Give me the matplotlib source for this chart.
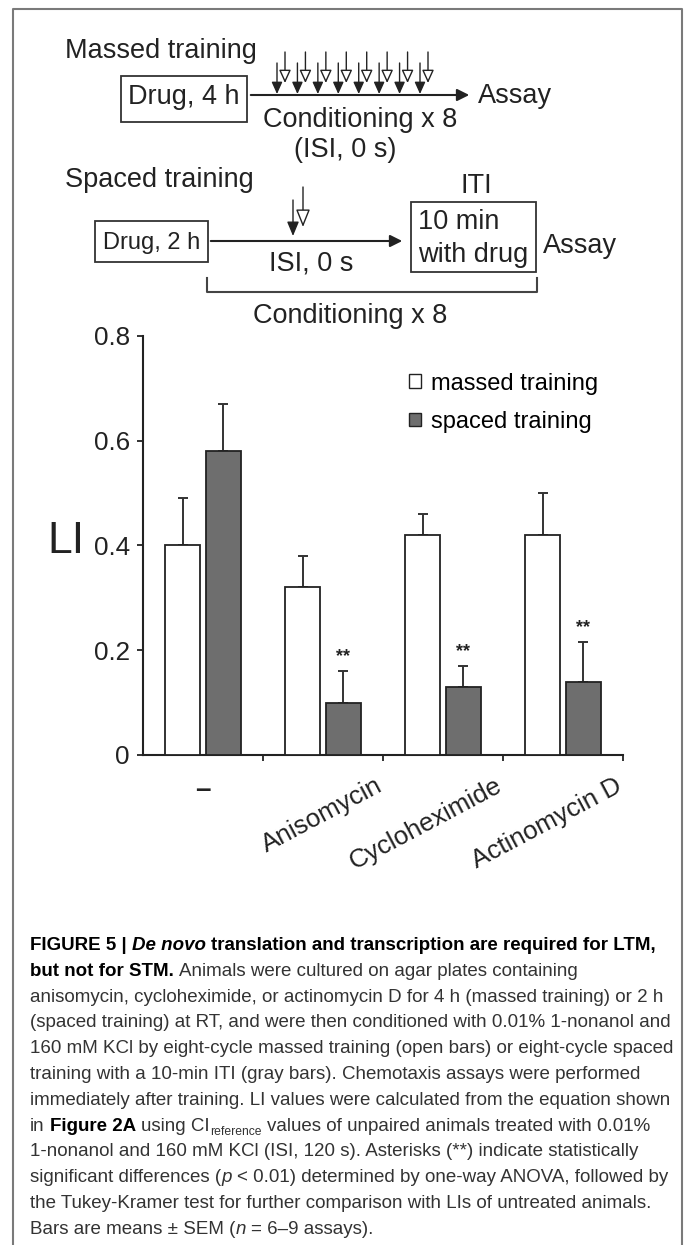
import numpy as np
import matplotlib.pyplot as plt
from matplotlib.patches import Rectangle, Patch

# ---- data ----
groups = ['–', 'Anisomycin', 'Cycloheximide', 'Actinomycin D']
massed = [0.40, 0.32, 0.42, 0.42]
massed_sem = [0.09, 0.06, 0.04, 0.08]
spaced = [0.58, 0.10, 0.13, 0.14]
spaced_sem = [0.09, 0.06, 0.04, 0.075]
spaced_sig = ['', '**', '**', '**']
y_ticks = [0, 0.2, 0.4, 0.6, 0.8]
y_tick_labels = ['0', '0.2', '0.4', '0.6', '0.8']

caption = [
    [("FIGURE 5 |", 'bold', 'normal'), (" De novo", 'bold', 'italic'),
     (" translation and transcription are required for LTM,", 'bold', 'normal')],
    [("but not for STM.", 'bold', 'normal'),
     (" Animals were cultured on agar plates containing", 'normal', 'normal')],
    [("anisomycin, cycloheximide, or actinomycin D for 4 h (massed training) or 2 h", 'normal', 'normal')],
    [("(spaced training) at RT, and were then conditioned with 0.01% 1-nonanol and", 'normal', 'normal')],
    [("160 mM KCl by eight-cycle massed training (open bars) or eight-cycle spaced", 'normal', 'normal')],
    [("training with a 10-min ITI (gray bars). Chemotaxis assays were performed", 'normal', 'normal')],
    [("immediately after training. LI values were calculated from the equation shown", 'normal', 'normal')],
    [("in", 'normal', 'normal'), (" Figure 2A", 'bold', 'normal'), (" using CI", 'normal', 'normal'),
     ("reference", 'normal', 'sub'), (" values of unpaired animals treated with 0.01%", 'normal', 'normal')],
    [("1-nonanol and 160 mM KCl (ISI, 120 s). Asterisks (**) indicate statistically", 'normal', 'normal')],
    [("significant differences (", 'normal', 'normal'), ("p", 'normal', 'italic'),
     (" < 0.01) determined by one-way ANOVA, followed by", 'normal', 'normal')],
    [("the Tukey-Kramer test for further comparison with LIs of untreated animals.", 'normal', 'normal')],
    [("Bars are means ± SEM (", 'normal', 'normal'), ("n", 'normal', 'italic'),
     (" = 6–9 assays).", 'normal', 'normal')],
]

plt.rcParams['font.family'] = ['Liberation Sans', 'DejaVu Sans']

W, H = 684, 1245
fig = plt.figure(figsize=(W / 100, H / 100), dpi=100)

# overlay in pixel coordinates for the schematic, frame and caption
ov = fig.add_axes([0, 0, 1, 1])
ov.set_xlim(0, W)
ov.set_ylim(H, 0)
ov.axis('off')

ink = '#222222'
fs = 19.5

# frame
ov.plot([13, 13, 682, 682], [H, 9, 9, H], color='#7a7a7a', lw=1.5)


def stim(xs, y0, y1, filled, hl, hw):
    ov.annotate('', xy=(xs, y1), xytext=(xs, y0),
                arrowprops=dict(arrowstyle='-|>,head_length=%g,head_width=%g' % (hl, hw),
                                lw=1.0, ec=ink, fc=ink if filled else 'white',
                                mutation_scale=12, shrinkA=0, shrinkB=0))


# ---- massed training schematic ----
ov.text(65, 58, 'Massed training', fontsize=fs, color=ink)
ov.add_patch(Rectangle((121, 76), 126, 46, fill=False, ec='#333333', lw=1.3))
ov.text(184, 104, 'Drug, 4 h', fontsize=fs, ha='center', color=ink)
ov.annotate('', xy=(472, 95), xytext=(248, 95),
            arrowprops=dict(arrowstyle='-|>', lw=1.5, color=ink, mutation_scale=18))
ov.text(478, 103, 'Assay', fontsize=fs, color=ink)
ov.text(360, 127, 'Conditioning x 8', fontsize=fs, ha='center', color=ink)
ov.text(345, 157, '(ISI, 0 s)', fontsize=fs, ha='center', color=ink)
for xs in np.linspace(277, 420, 8):
    stim(xs, 63, 94, True, 0.6, 0.27)
    stim(xs + 8, 52, 83, False, 0.66, 0.3)

# ---- spaced training schematic ----
ov.text(65, 187, 'Spaced training', fontsize=fs, color=ink)
ov.add_patch(Rectangle((95, 221), 113, 41, fill=False, ec='#333333', lw=1.3))
ov.text(151.5, 249, 'Drug, 2 h', fontsize=17, ha='center', color=ink)
ov.annotate('', xy=(405, 241), xytext=(208, 241),
            arrowprops=dict(arrowstyle='-|>', lw=1.5, color=ink, mutation_scale=18))
stim(293, 200, 236, True, 0.72, 0.3)
stim(303, 187, 227, False, 0.9, 0.36)
ov.text(311.5, 271, 'ISI, 0 s', fontsize=fs, ha='center', color=ink)
ov.text(476, 193, 'ITI', fontsize=fs, ha='center', color=ink)
ov.add_patch(Rectangle((411, 202), 125, 70, fill=False, ec='#333333', lw=1.3))
ov.text(418, 229, '10 min', fontsize=fs, color=ink)
ov.text(418, 262, 'with drug', fontsize=fs, color=ink)
ov.text(543, 253, 'Assay', fontsize=fs, color=ink)
ov.plot([207, 207, 537, 537], [278, 292, 292, 278], color='#444444', lw=1.5)
ov.text(350, 323, 'Conditioning x 8', fontsize=fs, ha='center', color=ink)

# ---- bar chart ----
ax = fig.add_axes([143 / W, (H - 755) / H, 480 / W, 419.3 / H])
x = np.arange(len(groups))
bw = 0.29
off = 0.168
ax.bar(x - off, massed, bw, color='white', edgecolor=ink, lw=1.3, zorder=3,
       label='massed training')
ax.bar(x + off, spaced, bw, color='#6e6e6e', edgecolor=ink, lw=1.3, zorder=3,
       label='spaced training')
ax.errorbar(x - off, massed, yerr=[np.zeros(len(x)), massed_sem], fmt='none',
            ecolor='#333333', elinewidth=1.4, capsize=3.5, capthick=1.4, zorder=2)
ax.errorbar(x + off, spaced, yerr=[np.zeros(len(x)), spaced_sem], fmt='none',
            ecolor='#333333', elinewidth=1.4, capsize=3.5, capthick=1.4, zorder=2)
for xi, m, e, s in zip(x, spaced, spaced_sem, spaced_sig):
    if s:
        ax.text(xi + off, m + e + 0.028, s, ha='center', va='center',
                fontsize=13, fontweight='bold', color=ink)

ax.set_xlim(-0.5, 3.5)
ax.set_ylim(0, 0.8)
ax.set_yticks(y_ticks)
ax.set_yticklabels(y_tick_labels, fontsize=18.7, color=ink)
ax.set_xticks([0.5, 1.5, 2.5, 3.5])
ax.set_xticklabels([])
ax.tick_params(axis='both', direction='out', length=4, width=1.3, color=ink)
ax.tick_params(axis='y', pad=5.5)
for sp in ['top', 'right']:
    ax.spines[sp].set_visible(False)
for sp in ['left', 'bottom']:
    ax.spines[sp].set_linewidth(1.5)
    ax.spines[sp].set_color(ink)
ax.patch.set_alpha(0)

ax.text(0, -0.083, groups[0], transform=ax.get_xaxis_transform(), ha='center',
        va='center', fontsize=20, fontweight='bold', color=ink)
for xi, g in zip(x[1:], groups[1:]):
    ax.text(xi + 0.48, -0.07, g, transform=ax.get_xaxis_transform(), ha='right',
            va='center', rotation=28, rotation_mode='anchor', fontsize=18.7, color=ink)

fig.text(66 / W, (H - 541) / H, 'LI', fontsize=32, ha='center', va='center', color=ink)

handles = [Patch(fc='white', ec=ink, lw=1.0), Patch(fc='#6e6e6e', ec=ink, lw=1.0)]
ax.legend(handles, ['massed training', 'spaced training'], loc='upper left',
          bbox_to_anchor=(0.555, 0.912), frameon=False, fontsize=17,
          handlelength=0.5, handleheight=0.5, handletextpad=0.4,
          labelspacing=0.7, borderpad=0, borderaxespad=0)

# ---- caption ----
renderer = fig.canvas.get_renderer()
cap_fam = ['Liberation Sans Narrow', 'Liberation Sans']
cap_fs = 13.5


def text_w(s, **kw):
    t = ov.text(0, 0, s, **kw)
    w = t.get_window_extent(renderer).width
    t.remove()
    return w


for i, line in enumerate(caption):
    xp = 30
    yb = 950 + i * 25.8
    for s, wt, st in line:
        kw = dict(fontsize=cap_fs, family=cap_fam, fontweight=wt,
                  color='black' if wt == 'bold' else '#333333')
        yy = yb
        if st == 'sub':
            kw['fontsize'] = cap_fs * 0.65
            yy = yb + 4
        elif st == 'italic':
            kw['fontstyle'] = 'italic'
        sw = text_w('a a', **kw) - text_w('aa', **kw)
        if s.startswith(' '):
            xp += sw
        t = ov.text(xp, yy, s.strip(), va='baseline', **kw)
        xp = t.get_window_extent(renderer).x1
        if s.endswith(' '):
            xp += sw

fig.savefig('out.png', dpi=100)
